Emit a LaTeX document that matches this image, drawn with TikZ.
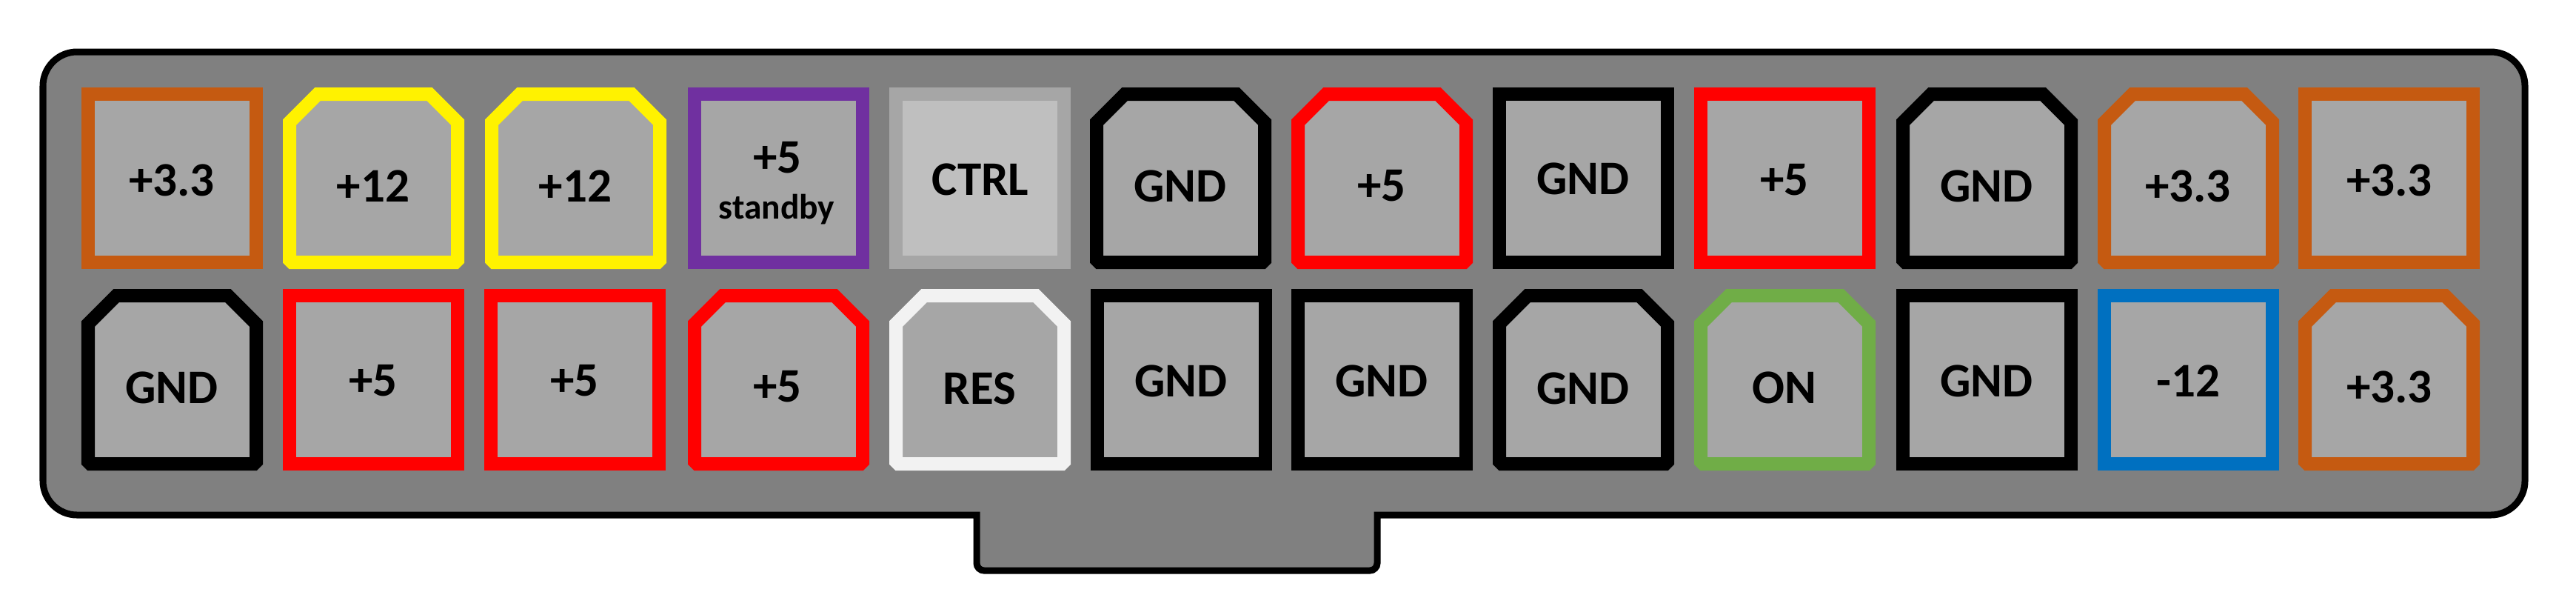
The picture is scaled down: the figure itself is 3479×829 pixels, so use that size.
\documentclass[tikz,border=0pt]{standalone}
\usepackage{fontspec}
\setmainfont{Carlito}
\definecolor{shell}{HTML}{808080}
\definecolor{padfill}{HTML}{A6A6A6}
\definecolor{ctrlfill}{HTML}{BFBFBF}
\definecolor{orangewire}{HTML}{C55A11}
\definecolor{purplewire}{HTML}{7030A0}
\definecolor{greenwire}{HTML}{70AD47}
\definecolor{bluewire}{HTML}{0070C0}
\definecolor{whitewire}{HTML}{F2F2F2}
\tikzset{
  pad/.style={fill=padfill, line width=0.18cm, miter limit=10},
  pintext/.style={font=\bfseries\fontsize{18.5}{20}\selectfont, inner sep=0pt},
  smalltext/.style={font=\bfseries\fontsize{13.5}{15}\selectfont, inner sep=0pt}
}
% pad with square corners: left edge, top edge, colour
\newcommand{\squarepad}[3]{
  \draw[pad, draw=#3] (#1+9,#2+9) rectangle ++(227,227);
}
% pad with cut top corners: left edge, top edge, colour
\newcommand{\cutpad}[3]{
  \draw[pad, draw=#3] (#1+9,#2+47) -- ++(38,-38) -- ++(151,0) -- ++(38,38)
    -- ++(0,186) -- ++(-3,3) -- ++(-221,0) -- ++(-3,-3) -- cycle;
}
\begin{document}
\begin{tikzpicture}[x=0.01cm,y=-0.01cm]
\useasboundingbox (0,0) rectangle (3479,829);

% shell with key
\draw[fill=shell, line width=0.09cm]
  (58,400) [rounded corners=0.46cm] -- (58,70) -- (3410,70) -- (3410,695)
  [sharp corners] -- (1860,695) [rounded corners=0.1cm] -- (1860,770) -- (1319,770)
  [sharp corners] -- (1319,695) [rounded corners=0.46cm] -- (58,695) -- (58,400) -- cycle;

% top row
\squarepad{110}{118}{orangewire}
\cutpad{382}{118}{yellow}
\cutpad{655}{118}{yellow}
\squarepad{929}{118}{purplewire}
\draw[pad, fill=ctrlfill, draw=padfill] (1210,127) rectangle ++(227,227);
\cutpad{1472}{118}{black}
\cutpad{1744}{118}{red}
\squarepad{2016}{118}{black}
\squarepad{2288}{118}{red}
\cutpad{2561}{118}{black}
\cutpad{2833}{118}{orangewire}
\squarepad{3104}{118}{orangewire}

% bottom row
\cutpad{110}{390}{black}
\squarepad{382}{390}{red}
\squarepad{654}{390}{red}
\cutpad{929}{390}{red}
\cutpad{1201}{390}{whitewire}
\squarepad{1473}{390}{black}
\squarepad{1744}{390}{black}
\cutpad{2016}{390}{black}
\cutpad{2288}{390}{greenwire}
\squarepad{2561}{390}{black}
\squarepad{2833}{390}{bluewire}
\cutpad{3104}{390}{orangewire}

% labels
\node[pintext] (t1) at (232,243) {+3.3};
\node[pintext] (t2) at (504,251) {+12};
\node[pintext] (t3) at (777,251) {+12};
\node[pintext] (t4) at (1050,213) {+5};
\node[smalltext] (t4b) at (1049,283) {standby};
\node[pintext] (t5) at (1324,242) {CTRL};
\node[pintext] (t6) at (1594,251) {GND};
\node[pintext] (t7) at (1866,251) {+5};
\node[pintext] (t8) at (2138,241) {GND};
\node[pintext] (t9) at (2410,243) {+5};
\node[pintext] (t10) at (2683,251) {GND};
\node[pintext] (t11) at (2955,251) {+3.3};
\node[pintext] (t12) at (3227,243) {+3.3};

\node[pintext] (b1) at (232,523) {GND};
\node[pintext] (b2) at (504,514) {+5};
\node[pintext] (b3) at (776,514) {+5};
\node[pintext] (b4) at (1050,522) {+5};
\node[pintext] (b5) at (1323,524) {RES};
\node[pintext] (b6) at (1595,514) {GND};
\node[pintext] (b7) at (1866,514) {GND};
\node[pintext] (b8) at (2138,524) {GND};
\node[pintext] (b9) at (2410,523) {ON};
\node[pintext] (b10) at (2683,514) {GND};
\node[pintext] (b11) at (2955,514) {-12};
\node[pintext] (b12) at (3227,522) {+3.3};
\end{tikzpicture}
\end{document}
